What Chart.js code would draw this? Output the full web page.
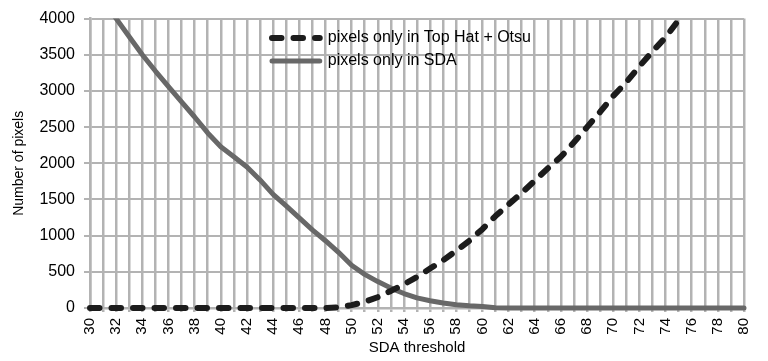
<!DOCTYPE html>
<html>
<head>
<meta charset="utf-8">
<script src="https://cdn.jsdelivr.net/npm/chart.js@4"></script>
<style>
  html, body { margin: 0; padding: 0; background: #ffffff; }
  #wrap { width: 768px; height: 361px; position: relative; }
</style>
</head>
<body>
<div id="wrap"><canvas id="c"></canvas></div>
<script>
// ---- data ----
const thresholds = [30,31,32,33,34,35,36,37,38,39,40,41,42,43,44,45,46,47,48,49,50,51,52,53,54,55,56,57,58,59,60,61,62,63,64,65,66,67,68,69,70,71,72,73,74,75,76,77,78,79,80];

const topHatOtsu = [0,0,0,0,0,0,0,0,0,0,0,0,0,0,0,0,0,0,0,
  10,40,85,150,236,327,430,545,660,790,930,1090,1270,1430,1590,1760,1930,2090,2290,2500,2710,2930,3120,3340,3545,3740,3980,
  null,null,null,null,null];

const sdaOnly = [4500,4250,4000,3750,3500,3275,3060,2850,2640,2420,2230,2090,1950,1770,1570,1410,1245,1080,930,770,590,465,365,275,200,140,100,70,45,30,20,5,
  0,0,0,0,0,0,0,0,0,0,0,0,0,0,0,0,0,0,0];

const yTicks = [0,500,1000,1500,2000,2500,3000,3500,4000];

const seriesNames = ['pixels only in Top Hat + Otsu', 'pixels only in SDA'];
const xTitle = 'SDA threshold';
const yTitle = 'Number of pixels';

// ---- style ----
const FONT = "'Liberation Sans', Arial, sans-serif";
const GRID = '#b3b3b3';

const legendPlacer = {
  id: 'legendPlacer',
  afterLayout(chart) {
    const lg = chart.legend;
    if (!lg) return;
    const w = lg.width;
    lg.left = 265;
    lg.right = lg.left + w;
    lg.top = 23;
    lg.height = 80;
    lg.bottom = lg.top + 80;
  }
};

new Chart(document.getElementById('c'), {
  type: 'line',
  data: {
    labels: thresholds,
    datasets: [
      {
        label: seriesNames[0],
        data: topHatOtsu,
        borderColor: '#1c1c1c',
        backgroundColor: 'rgba(0,0,0,0)',
        borderWidth: 6,
        borderDash: [9.5, 12],
        borderCapStyle: 'round',
        borderJoinStyle: 'round',
        pointRadius: 0,
        pointHoverRadius: 0,
        tension: 0,
        fill: false,
        spanGaps: false,
        clip: { left: 6, top: 0, right: 6, bottom: 6 }
      },
      {
        label: seriesNames[1],
        data: sdaOnly,
        borderColor: '#686868',
        backgroundColor: 'rgba(0,0,0,0)',
        borderWidth: 5,
        borderCapStyle: 'round',
        borderJoinStyle: 'round',
        pointRadius: 0,
        pointHoverRadius: 0,
        tension: 0,
        fill: false,
        clip: { left: 6, top: 0, right: 6, bottom: 6 }
      }
    ]
  },
  options: {
    responsive: true,
    maintainAspectRatio: false,
    animation: false,
    events: [],
    layout: { padding: { left: 0, right: 10, top: 15, bottom: 0 } },
    plugins: {
      tooltip: { enabled: false },
      legend: {
        display: true,
        position: 'chartArea',
        align: 'start',
        labels: {
          usePointStyle: false,
          boxWidth: 47.75,
          boxHeight: 0,
          padding: 7,
          color: '#000000',
          font: { family: FONT, size: 16 }
        }
      }
    },
    scales: {
      x: {
        type: 'category',
        offset: false,
        afterFit(s) { s.height = 53; },
        grid: { color: GRID, lineWidth: 2.5, drawTicks: true, tickLength: 4, tickWidth: 2.5, tickColor: GRID },
        border: { display: true, color: GRID, width: 2.5 },
        ticks: {
          autoSkip: false,
          maxRotation: 90,
          minRotation: 90,
          padding: 6,
          color: '#000000',
          font: { family: FONT, size: 15 },
          callback(val, idx) { const t = thresholds[idx]; return t % 2 === 0 ? String(t) : ''; }
        },
        title: {
          display: true,
          text: xTitle,
          color: '#000000',
          font: { family: FONT, size: 15 },
          padding: { top: 0, bottom: 4.5 }
        }
      },
      y: {
        min: 0,
        max: 4000,
        afterFit(s) { s.width = 90; },
        afterBuildTicks(s) { s.ticks = yTicks.map(v => ({ value: v })); },
        grid: { color: GRID, lineWidth: 2, drawTicks: true, tickLength: 6, tickWidth: 2, tickColor: GRID },
        border: { display: true, color: GRID, width: 2.5 },
        ticks: {
          padding: 9,
          color: '#000000',
          font: { family: FONT, size: 16 },
          callback(val) { return String(val); }
        },
        title: {
          display: true,
          text: yTitle,
          color: '#000000',
          font: { family: FONT, size: 14 },
          padding: { top: 11, bottom: 0 }
        }
      }
    }
  },
  plugins: [legendPlacer]
});
</script>
</body>
</html>
